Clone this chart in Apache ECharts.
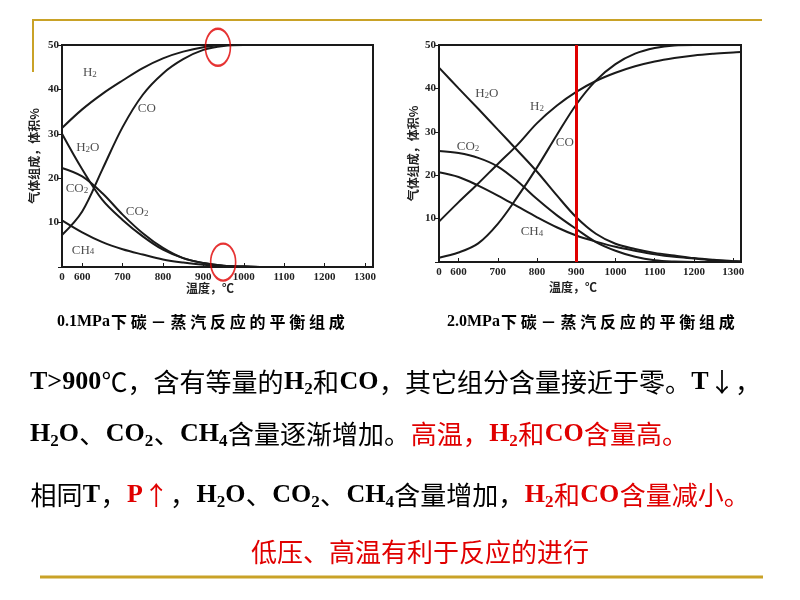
<!DOCTYPE html>
<html><head><meta charset="utf-8">
<script src="https://cdn.jsdelivr.net/npm/echarts@6/dist/echarts.min.js"></script>
<style>html,body{margin:0;padding:0;background:#fff}#c{width:800px;height:600px}</style>
</head><body><div id="c"></div>
<script>
// temperature, °C
const temps = [550,600,650,700,750,800,850,900,950,1000,1050,1100,1150,1200,1250,1300,1320];
const xLabelValues = [550,600,700,800,900,1000,1100,1200,1300];
const xTickValues = [600,700,800,900,1000,1100,1200,1300];

// 0.1 MPa (gas composition, vol %)
const lowH2  = [31.3,35.5,39,42,44.8,47,48.5,49.5,50,50,50,50,50,50,50,50,50];
const lowCO  = [7.2,12.5,22,31.5,38.8,43.6,46.8,48.9,49.8,50,50,50,50,50,50,50,50];
const lowH2O = [30,22,15.1,10.6,6.9,3.9,2,0.9,0.3,0.1,0,0,0,0,0,0,0];
const lowCO2 = [22.3,20.4,16.6,11.8,7.6,4.3,2,0.9,0.3,0.1,0,0,0,0,0,0,0];
const lowCH4 = [10.5,7.8,5.6,4,2.8,1.7,1,0.5,0.2,0.1,0,0,0,0,0,0,0];

// 2.0 MPa
const highH2O = [44.8,40,35.3,30.5,25.7,20.8,15.4,10.3,6.5,4.2,3,2.1,1.5,0.9,0.5,0.2,0.1];
const highH2  = [9.3,13.8,18.1,22.6,27,32,36,39.2,41.7,43.6,45.1,46.2,47,47.6,48,48.3,48.4];
const highCO  = [1,2.2,4.3,8.8,15,21.8,29.2,36.3,41.8,45.6,48,49.3,49.9,50,50,50,50];
const highCO2 = [25.6,25.1,24,22,18.6,14.5,10.8,7.6,4.6,2.6,1.2,0.4,0.1,0,0,0,0];
const highCH4 = [20.7,19.6,17.6,15.3,12.8,10.3,8,6.1,4.7,3.5,2.6,1.8,1.2,0.8,0.4,0.15,0.1];

// curve labels [temperature, %, name]
const lowLabels = [[619,43.7,'H2'],[760,35.6,'CO'],[614,26.8,'H2O'],[587,17.6,'CO2'],[736,12.4,'CO2'],[602,3.8,'CH4']];
const highLabels = [[672,38.8,'H2O'],[800,35.8,'H2'],[871,27.5,'CO'],[624,26.6,'CO2'],[787,6.9,'CH4']];
// highlighted spots (red ellipses) [temperature, %]
const lowCircles = [[936,49.5],[949,1.1]];
const markTemp = 900;

const yTitle = '气体组成，体积%';
const xTitle = '温度，℃';
const captionLow = ['0.1MPa', '下碳－蒸汽反应的平衡组成'];
const captionHigh = ['2.0MPa', '下碳－蒸汽反应的平衡组成'];

const serif = '"Liberation Serif", "Times New Roman", serif';
const cjk = '"Noto Sans CJK SC", sans-serif';
const ink = '#1a1a1a';
const red = '#e00000';
const gold = '#c9a227';

function pair(arr){ return temps.map((t,i)=>[t,arr[i]]); }
function chem(s){ return s.replace(/(\d)/g,'{s|$1}'); }

function xAxisCfg(gi){
  return {
    type:'value', gridIndex:gi, min:550, max:1320,
    axisLine:{show:true,lineStyle:{color:ink,width:2}},
    axisTick:{show:true,inside:true,length:4,customValues:xTickValues,lineStyle:{color:ink}},
    axisLabel:{customValues:xLabelValues,formatter:v=>v===550?'0':String(v),
      color:'#222',fontFamily:serif,fontSize:11,fontWeight:'bold',margin:5},
    splitLine:{show:false}
  };
}
function yAxisCfg(gi,gap){
  return {
    type:'value', gridIndex:gi, min:0, max:50, interval:10,
    name:yTitle, nameLocation:'middle', nameRotate:90, nameGap:gap,
    nameTextStyle:{fontFamily:cjk,fontSize:12,fontWeight:'bold',color:'#222'},
    axisLine:{show:true,lineStyle:{color:ink,width:2}},
    axisTick:{show:true,inside:false,length:4,lineStyle:{color:ink}},
    axisLabel:{formatter:v=>v===0?'':String(v),color:'#222',fontFamily:serif,fontSize:11,fontWeight:'bold',margin:3},
    splitLine:{show:false}
  };
}
function curve(arr,gi,extra){
  return Object.assign({type:'line',xAxisIndex:gi,yAxisIndex:gi,data:pair(arr),smooth:0.35,
    symbol:'none',lineStyle:{color:ink,width:2},silent:true,z:3},extra||{});
}
function labelSeries(list,gi){
  return {type:'scatter',xAxisIndex:gi,yAxisIndex:gi,data:list,symbolSize:1,silent:true,z:5,
    itemStyle:{color:'rgba(0,0,0,0)'},
    label:{show:true,position:'inside',formatter:p=>chem(p.data[2]),
      fontFamily:serif,fontSize:13,color:'#222',
      rich:{s:{fontFamily:serif,fontSize:9,color:'#222',verticalAlign:'bottom',lineHeight:10}}}};
}

const bodyRich = {
  b:{fontFamily:serif,fontWeight:'bold',fontSize:26,fill:'#000',lineHeight:32},
  c:{fontFamily:cjk,fontSize:26,fill:'#000',lineHeight:32,padding:[0,0.4,0,0.4]},
  s:{fontFamily:serif,fontWeight:'bold',fontSize:17,fill:'#000',lineHeight:18,verticalAlign:'bottom'},
  rb:{fontFamily:serif,fontWeight:'bold',fontSize:26,fill:red,lineHeight:32},
  rc:{fontFamily:cjk,fontSize:26,fill:red,lineHeight:32,padding:[0,0.4,0,0.4]},
  rs:{fontFamily:serif,fontWeight:'bold',fontSize:17,fill:red,lineHeight:18,verticalAlign:'bottom'}
};
const line1 = '{b|T>900}{c|℃，含有等量的}{b|H}{s|2}{c|和}{b|CO}{c|，其它组分含量接近于零。}{b|T}{c|↓，}';
const line2 = '{b|H}{s|2}{b|O}{c|、}{b|CO}{s|2}{c|、}{b|CH}{s|4}{c|含量逐渐增加。}{rc|高温，}{rb|H}{rs|2}{rc|和}{rb|CO}{rc|含量高。}';
const line3 = '{c|相同}{b|T}{c|，}{rb|P}{rc|↑}{c|，}{b|H}{s|2}{b|O}{c|、}{b|CO}{s|2}{c|、}{b|CH}{s|4}{c|含量增加，}{rb|H}{rs|2}{rc|和}{rb|CO}{rc|含量减小。}';
const line4 = '低压、高温有利于反应的进行';

function txt(x,y,text,rich,align,extra){
  const st = Object.assign({text:text,align:align||'left',verticalAlign:'middle'},extra||{});
  if(rich) st.rich = rich;
  return {type:'text',x:x,y:y,silent:true,z:10,style:st};
}
// letter-spaced caption: one text element per character, 20px pitch
function caption(x0,y,parts){
  const out = [txt(x0,y,parts[0],null,'left',{fontFamily:serif,fontWeight:'bold',fontSize:16,fill:'#000'})];
  Array.from(parts[1]).forEach((ch,i)=>{
    out.push(txt(x0+62+i*19.8,y,ch,null,'center',{fontFamily:cjk,fontWeight:'bold',fontSize:16,fill:'#000'}));
  });
  return out;
}

const chart = echarts.init(document.getElementById('c'),null,{renderer:'canvas'});
chart.setOption({
  animation:false,
  backgroundColor:'#fff',
  grid:[
    {left:62,top:45,width:311,height:222,show:true,borderColor:ink,borderWidth:2,backgroundColor:'transparent'},
    {left:439,top:45,width:302,height:217,show:true,borderColor:ink,borderWidth:2,backgroundColor:'transparent'}
  ],
  xAxis:[xAxisCfg(0),xAxisCfg(1)],
  yAxis:[yAxisCfg(0,22),yAxisCfg(1,20)],
  series:[
    curve(lowH2,0),curve(lowCO,0),curve(lowH2O,0),curve(lowCO2,0),curve(lowCH4,0),
    labelSeries(lowLabels,0),
    {type:'scatter',xAxisIndex:0,yAxisIndex:0,data:lowCircles,symbol:'circle',symbolSize:[25,37],silent:true,z:6,
      itemStyle:{color:'rgba(0,0,0,0)',borderColor:red,borderWidth:2}},
    curve(highH2O,1),
    curve(highH2,1,{markLine:{silent:true,symbol:['none','none'],label:{show:false},
      lineStyle:{color:red,width:3,type:'solid'},data:[{xAxis:markTemp}]}}),
    curve(highCO,1),curve(highCO2,1),curve(highCH4,1),
    labelSeries(highLabels,1)
  ],
  graphic:[
    {type:'line',silent:true,shape:{x1:32,y1:20,x2:762,y2:20},style:{stroke:gold,lineWidth:2}},
    {type:'line',silent:true,shape:{x1:33,y1:20,x2:33,y2:72},style:{stroke:gold,lineWidth:2}},
    {type:'line',silent:true,shape:{x1:40,y1:577,x2:763,y2:577},style:{stroke:gold,lineWidth:3}},
    txt(210,288,xTitle,null,'center',{fontFamily:cjk,fontSize:12,fontWeight:'bold',fill:'#222'}),
    txt(573,287,xTitle,null,'center',{fontFamily:cjk,fontSize:12,fontWeight:'bold',fill:'#222'})
  ].concat(caption(57,322,captionLow), caption(447,322,captionHigh), [
    txt(30,382,line1,bodyRich),
    txt(30,434,line2,bodyRich),
    txt(30,495,line3,bodyRich),
    txt(420,552,line4,null,'center',{fontFamily:cjk,fontSize:26,fill:red})
  ])
});
</script></body></html>
